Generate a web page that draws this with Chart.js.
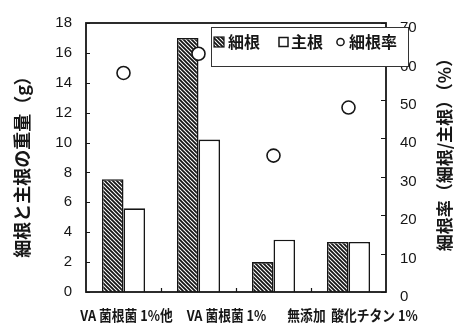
<!DOCTYPE html>
<html>
<head>
<meta charset="utf-8">
<script src="https://cdn.jsdelivr.net/npm/chart.js@4/dist/chart.umd.min.js"></script>
<style>
  html, body { margin: 0; padding: 0; background: #fff; }
  #wrap { width: 462px; height: 331px; position: relative; }
</style>
</head>
<body>
<div id="wrap"><canvas id="c"></canvas></div>
<script>
// Root weights per treatment (g) and fine-root ratio (%)
const categories = ['VA 菌根菌 1%他', 'VA 菌根菌 1%', '無添加', '酸化チタン 1%'];
const fineRoot = [7.55, 17.0, 2.0, 3.35];
const mainRoot = [5.6, 10.2, 3.5, 3.35];
const fineRatio = [57, 62, 35.5, 48];
const seriesNames = ['細根', '主根', '細根率'];
const weightTicks = { min: 0, max: 18, step: 2 };
const ratioTicks = { min: 0, max: 70, step: 10 };
const weightTitle = '細根と主根の重量（g）';
const ratioTitle = '細根率（細根/主根）（%）';

const INK = '#161616';
const JP = '"Noto Sans CJK JP", "Noto Sans", sans-serif';
const NUM = '"Liberation Sans", Arial, sans-serif';

// Diagonal hatch fill for the fine-root bars
function makeHatch() {
  const t = document.createElement('canvas');
  t.width = 4; t.height = 4;
  const g = t.getContext('2d');
  g.fillStyle = '#fff';
  g.fillRect(0, 0, 4, 4);
  g.strokeStyle = '#151515';
  g.lineWidth = 1.8;
  g.beginPath();
  g.moveTo(-1, -1); g.lineTo(5, 5);
  g.moveTo(-1, 3); g.lineTo(1, 5);
  g.moveTo(3, -1); g.lineTo(5, 1);
  g.stroke();
  return g.createPattern(t, 'repeat');
}
const hatch = makeHatch();

// Frame, inward ticks, axis titles, category labels and the boxed legend
const decor = {
  id: 'decor',
  afterDraw(chart) {
    const { ctx, chartArea: a, scales } = chart;
    const x = scales.x, y = scales.y, y1 = scales.y1;
    ctx.save();

    // plot frame
    ctx.strokeStyle = INK;
    ctx.lineWidth = 1.8;
    ctx.strokeRect(a.left, a.top, a.right - a.left, a.bottom - a.top);

    // inward tick marks
    ctx.lineWidth = 1.2;
    ctx.beginPath();
    for (let v = weightTicks.min; v <= weightTicks.max; v += weightTicks.step) {
      const py = Math.round(y.getPixelForValue(v)) + 0.5;
      ctx.moveTo(a.left, py); ctx.lineTo(a.left + 4, py);
    }
    for (let v = ratioTicks.min; v <= ratioTicks.max; v += ratioTicks.step) {
      const py = Math.round(y1.getPixelForValue(v)) + 0.5;
      ctx.moveTo(a.right, py); ctx.lineTo(a.right - 5, py);
    }
    for (let i = 0; i < categories.length - 1; i++) {
      const px = Math.round((x.getPixelForValue(i) + x.getPixelForValue(i + 1)) / 2) + 0.5;
      ctx.moveTo(px, a.bottom); ctx.lineTo(px, a.bottom - 4);
    }
    ctx.stroke();

    // axis titles, both reading bottom to top
    ctx.fillStyle = INK;
    ctx.textAlign = 'center';
    ctx.textBaseline = 'middle';
    const mid = (a.top + a.bottom) / 2;
    ctx.font = 'bold 18px ' + JP;
    ctx.save();
    ctx.translate(22, mid + 5);
    ctx.rotate(-Math.PI / 2);
    ctx.fillText(weightTitle, 0, 0);
    ctx.restore();
    ctx.font = 'bold 17px ' + JP;
    ctx.save();
    ctx.translate(445, mid - 7);
    ctx.rotate(-Math.PI / 2);
    ctx.fillText(ratioTitle, 0, 0);
    ctx.restore();

    // category labels, condensed and nudged apart so they do not collide
    const shift = [3, 28, 33, 26];
    ctx.font = 'bold 15px ' + JP;
    categories.forEach((lab, i) => {
      ctx.save();
      ctx.translate(x.getPixelForValue(i) + shift[i], a.bottom + 23);
      ctx.scale(0.85, 1);
      ctx.fillText(lab, 0, 0);
      ctx.restore();
    });

    // legend box
    const bx = a.right - 175, by = a.top + 4, bw = 197, bh = 39;
    ctx.fillStyle = '#fff';
    ctx.fillRect(bx, by, bw, bh);
    ctx.strokeStyle = '#333';
    ctx.lineWidth = 1;
    ctx.strokeRect(bx + 0.5, by + 0.5, bw, bh);

    const ly = by + 15;
    ctx.font = 'bold 16px ' + JP;
    ctx.textAlign = 'left';
    const ds = chart.data.datasets;
    let cx = bx + 3;
    // hatched swatch
    ctx.fillStyle = hatch;
    ctx.fillRect(cx, ly - 5, 10, 10);
    ctx.strokeStyle = INK; ctx.lineWidth = 1.2;
    ctx.strokeRect(cx, ly - 5, 10, 10);
    cx += 14;
    ctx.fillStyle = INK;
    ctx.fillText(ds[1].label, cx, ly);
    cx += ctx.measureText(ds[1].label).width + 19;
    // open square swatch
    ctx.lineWidth = 1.5;
    ctx.strokeRect(cx, ly - 4.5, 9, 9);
    cx += 12;
    ctx.fillText(ds[2].label, cx, ly);
    cx += ctx.measureText(ds[2].label).width + 13;
    // open circle swatch
    ctx.beginPath();
    ctx.arc(cx + 4.5, ly, 3.6, 0, Math.PI * 2);
    ctx.stroke();
    cx += 13;
    ctx.fillText(ds[0].label, cx, ly);

    ctx.restore();
  }
};

new Chart(document.getElementById('c'), {
  data: {
    labels: categories,
    datasets: [
      {
        type: 'line',
        label: seriesNames[2],
        data: fineRatio,
        yAxisID: 'y1',
        showLine: false,
        order: 0,
        pointStyle: 'circle',
        pointRadius: 6.5,
        pointBorderWidth: 1.6,
        pointBackgroundColor: '#fff',
        pointBorderColor: INK
      },
      {
        type: 'bar',
        label: seriesNames[0],
        data: fineRoot,
        yAxisID: 'y',
        order: 1,
        backgroundColor: hatch,
        borderColor: INK,
        borderWidth: 1.6,
        categoryPercentage: 0.575,
        barPercentage: 1.0
      },
      {
        type: 'bar',
        label: seriesNames[1],
        data: mainRoot,
        yAxisID: 'y',
        order: 1,
        backgroundColor: '#fff',
        borderColor: INK,
        borderWidth: 1.6,
        categoryPercentage: 0.575,
        barPercentage: 1.0
      }
    ]
  },
  options: {
    responsive: true,
    maintainAspectRatio: false,
    animation: false,
    devicePixelRatio: 1,
    layout: { padding: { top: 15, left: 0, right: 0, bottom: 0 } },
    plugins: { legend: { display: false }, tooltip: { enabled: false } },
    scales: {
      x: {
        type: 'category',
        offset: true,
        grid: { display: false, drawTicks: false },
        border: { display: false },
        ticks: { display: false },
        afterFit(s) { s.height = 39; }
      },
      y: {
        position: 'left',
        min: weightTicks.min,
        max: weightTicks.max,
        grid: { display: false, drawTicks: false },
        border: { display: false },
        ticks: { stepSize: weightTicks.step, padding: 14, color: INK, font: { family: NUM, size: 15 } },
        afterFit(s) { s.width = 86; }
      },
      y1: {
        position: 'right',
        min: ratioTicks.min,
        max: ratioTicks.max,
        grid: { display: false, drawTicks: false },
        border: { display: false },
        ticks: { stepSize: ratioTicks.step, padding: 14, labelOffset: 5, color: INK, font: { family: NUM, size: 15 } },
        afterFit(s) { s.width = 76; }
      }
    }
  },
  plugins: [decor]
});
</script>
</body>
</html>
